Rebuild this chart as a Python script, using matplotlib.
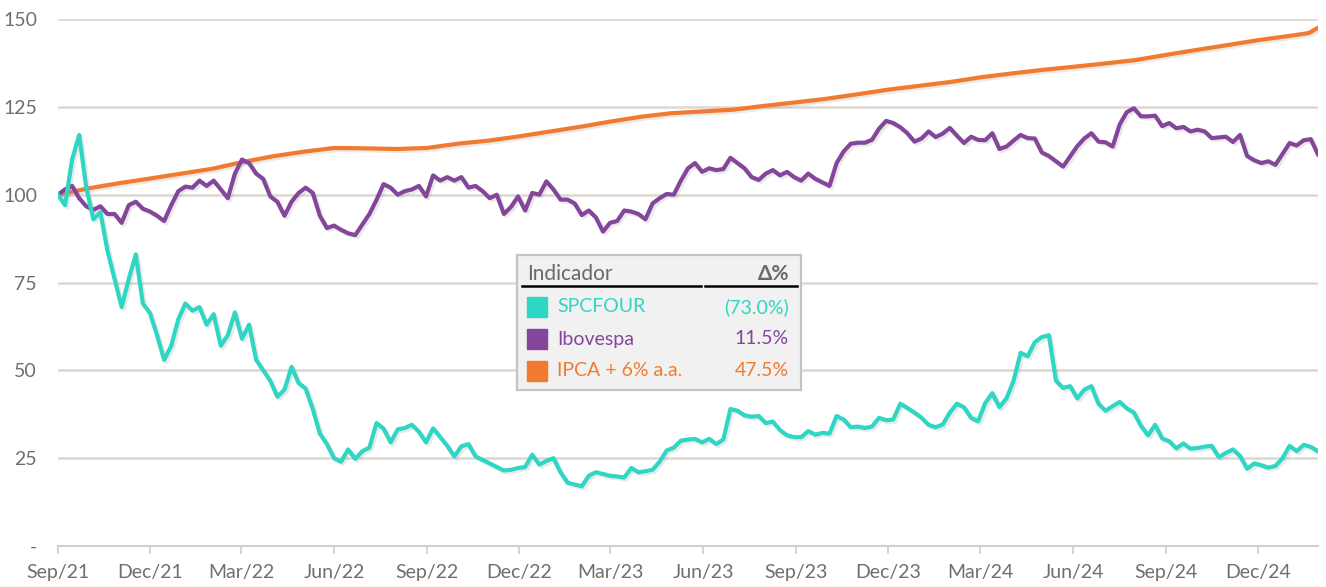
import matplotlib
matplotlib.use('Agg')

import matplotlib.pyplot as plt
import matplotlib.dates as mdates
import matplotlib.patheffects as pe
from matplotlib.patches import Rectangle
import pandas as pd

plt.rcParams['font.family'] = ['Lato', 'DejaVu Sans']

# weekly closes, base 100
start_date = '2021-09-01'
spcfour = [100, 97, 110, 117, 102, 93, 95, 84, 76, 68,
           76, 83, 69, 66.3, 60, 53, 57, 64.5, 69, 67,
           68, 63, 66, 57, 60, 66.5, 59, 63, 53, 50,
           47, 42.5, 44.5, 51, 46.4, 44.8, 39, 32, 29, 25,
           24, 27.5, 24.8, 27, 28, 35, 33.4, 29.5, 33.2, 33.6,
           34.5, 32.5, 29.5, 33.5, 31, 28.5, 25.5, 28.4, 29, 25.5,
           24.5, 23.5, 22.5, 21.5, 21.7, 22.2, 22.5, 26, 23.2, 24.2,
           25, 21, 18, 17.5, 17, 20, 21, 20.5, 20, 19.8,
           19.5, 22.2, 21, 21.3, 21.7, 24, 27.2, 28, 30, 30.3,
           30.5, 29.5, 30.5, 29, 30.3, 39, 38.5, 37.2, 36.8, 37,
           35, 35.4, 33, 31.5, 31, 31, 32.7, 31.7, 32.2, 32,
           37, 36, 33.8, 34, 33.6, 34, 36.5, 35.8, 36, 40.5,
           39.3, 38, 36.5, 34.5, 33.8, 34.6, 38, 40.5, 39.5, 36.5,
           35.5, 40.7, 43.5, 39.5, 42, 47, 55, 54, 58, 59.5,
           60, 47, 45, 45.5, 42, 44.5, 45.5, 40.5, 38.5, 39.8,
           41, 39.2, 38, 34.2, 31.5, 34.5, 30.6, 29.8, 27.8, 29.2,
           27.7, 27.9, 28.3, 28.5, 25.3, 26.5, 27.5, 25.6, 22, 23.5,
           23, 22.3, 22.8, 25, 28.5, 27, 28.8, 28.2, 27.0]
ibovespa = [100, 101.5, 102.5, 99, 96.7, 95.7, 96.7, 94.5, 94.5, 92,
            97, 98, 96, 95.2, 94, 92.5, 97, 101, 102.3, 102,
            104, 102.5, 104, 101.5, 99, 106, 110, 109, 106, 104.5,
            99.5, 98, 94, 98, 100.5, 102, 100.5, 94, 90.5, 91.2,
            90, 89, 88.5, 91.5, 94.5, 98.5, 103, 102, 100, 101,
            101.5, 102.5, 99.5, 105.5, 104, 105, 104, 105, 102, 102.5,
            101, 99, 100, 94.5, 96.5, 99.5, 95.5, 100.5, 100, 103.8,
            101.5, 98.6, 98.6, 97.5, 94.2, 95.5, 93.5, 89.5, 92, 92.5,
            95.5, 95.2, 94.5, 93, 97.5, 99, 100.2, 100, 104, 107.5,
            109, 106.5, 107.5, 107, 107.3, 110.5, 109, 107.5, 105, 104.2,
            106, 107, 105.5, 106.5, 105, 104, 106, 104.5, 103.5, 102.5,
            109, 112.3, 114.5, 114.8, 114.8, 115.6, 118.8, 121, 120.4, 119.2,
            117.5, 115.1, 116, 118, 116.4, 117.4, 119, 116.8, 114.7, 116.5,
            115.6, 115.5, 117.5, 113, 113.7, 115.4, 117, 116.1, 116, 112,
            111, 109.5, 108, 110.9, 113.8, 116, 117.5, 115.1, 114.9, 113.7,
            120, 123.5, 124.6, 122.3, 122.3, 122.5, 119.5, 120.4, 118.9, 119.3,
            118, 118.5, 118, 116.1, 116.3, 116.5, 115, 117, 111, 109.8,
            109, 109.5, 108.5, 111.6, 114.7, 114, 115.5, 115.8, 111.5]

ipca_dates = ['2021-09-01', '2021-10-01', '2021-11-01', '2021-12-01', '2022-01-01',
              '2022-02-01', '2022-03-01', '2022-04-01', '2022-05-01', '2022-06-01',
              '2022-07-01', '2022-08-01', '2022-09-01', '2022-10-01', '2022-11-01',
              '2022-12-01', '2023-01-01', '2023-02-01', '2023-03-01', '2023-04-01',
              '2023-05-01', '2023-06-01', '2023-07-01', '2023-08-01', '2023-09-01',
              '2023-10-01', '2023-11-01', '2023-12-01', '2024-01-01', '2024-02-01',
              '2024-03-01', '2024-04-01', '2024-05-01', '2024-06-01', '2024-07-01',
              '2024-08-01', '2024-09-01', '2024-10-01', '2024-11-01', '2024-12-01',
              '2025-01-01', '2025-01-20', '2025-01-29']
ipca6 = [100.0, 101.8, 103.3, 104.6, 106.0, 107.4, 109.2, 110.9, 112.2, 113.3,
         113.2, 113.0, 113.3, 114.5, 115.4, 116.6, 118.0, 119.4, 120.8, 122.2,
         123.2, 123.7, 124.2, 125.3, 126.3, 127.3, 128.6, 129.9, 131.0, 132.1,
         133.4, 134.5, 135.5, 136.4, 137.3, 138.3, 139.8, 141.2, 142.6, 144.0,
         145.2, 146.0, 147.5]

names = ['SPCFOUR', 'Ibovespa', 'IPCA + 6% a.a.']
changes = ['(73.0%)', '11.5%', '47.5%']
colors = ['#2ED6C4', '#84469B', '#F07B30']
yticks = [0, 25, 50, 75, 100, 125, 150]
tick_months = pd.date_range('2021-09-01', '2024-12-01', freq='3MS')

text_gray = '#756d68'
grid_gray = '#dcd8d3'

week_dates = pd.date_range(start_date, periods=len(spcfour), freq='7D')

fig = plt.figure(figsize=(13.26, 5.87), dpi=100)
ax = fig.add_axes([0.0437, 0.0698, 0.9502, 0.8978])

shadow = [pe.SimpleLineShadow(offset=(1.5, -1.5), shadow_color='#888888', alpha=0.18), pe.Normal()]
ax.plot(pd.to_datetime(ipca_dates), ipca6, color=colors[2], lw=3, path_effects=shadow, zorder=3)
ax.plot(week_dates, ibovespa, color=colors[1], lw=3, path_effects=shadow, zorder=4)
ax.plot(week_dates, spcfour, color=colors[0], lw=3, path_effects=shadow, zorder=5)

ax.set_ylim(0, 150)
ax.set_xlim(week_dates[0], week_dates[-1])
ax.set_yticks(yticks)
ax.set_yticklabels(['-' if v == 0 else str(v) for v in yticks])
for v in yticks[1:]:
    ax.axhline(v, color=grid_gray, lw=1.8, zorder=1)

ax.set_xticks(tick_months)
ax.xaxis.set_major_formatter(mdates.DateFormatter('%b/%y'))

for s in ['top', 'right', 'left']:
    ax.spines[s].set_visible(False)
ax.spines['bottom'].set_color('#d3cfca')
ax.spines['bottom'].set_linewidth(1.5)
ax.tick_params(axis='y', length=0, pad=15, labelsize=14, labelcolor=text_gray)
ax.tick_params(axis='x', length=6, width=1.3, color='#d3cfca', pad=7, labelsize=14, labelcolor=text_gray)

# legend table
lg = fig.add_axes([517 / 1326, 1 - 390 / 587, 284 / 1326, 135 / 587])
lg.set_xlim(0, 284)
lg.set_ylim(135, 0)
lg.set_xticks([])
lg.set_yticks([])
lg.set_facecolor('#f1f1f1')
for s in lg.spines.values():
    s.set_color('#c4c4c4')
    s.set_linewidth(1.6)
lg.set_zorder(10)

lg.text(10, 19, 'Indicador', fontsize=15, color='#6e6762', va='center', ha='left')
lg.text(272, 19, 'Δ%', fontsize=15, color='#6e6762', va='center', ha='right', fontweight='bold')
lg.plot([5, 184], [31, 31], color='black', lw=1.8)
lg.plot([188, 280], [31, 31], color='black', lw=1.8)
row_y = [52, 84, 116]
for i in range(0, len(names)):
    lg.add_patch(Rectangle((10, row_y[i] - 10), 20, 20, color=colors[i]))
    lg.text(40, row_y[i], names[i], fontsize=14, color=colors[i], va='center', ha='left')
    lg.text(272, row_y[i], changes[i], fontsize=14, color=colors[i], va='center', ha='right')

fig.savefig('out.png', dpi=100)
